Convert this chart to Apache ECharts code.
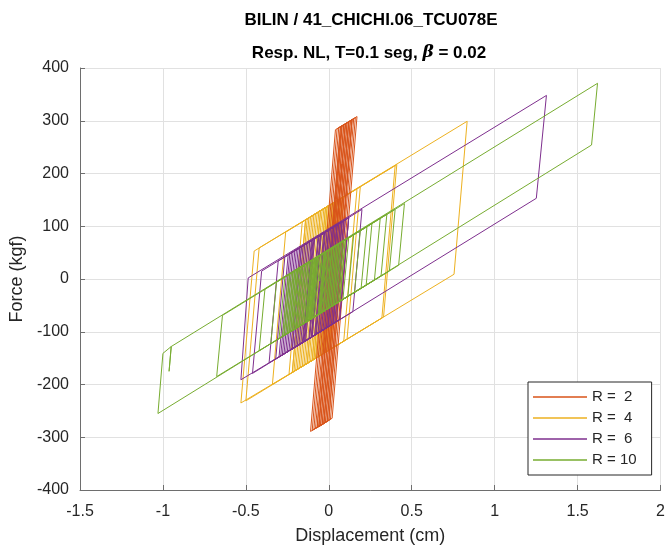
<!DOCTYPE html>
<html>
<head>
<meta charset="utf-8">
<script src="https://cdn.jsdelivr.net/npm/echarts@6/dist/echarts.min.js"></script>
<style>
html, body { margin: 0; padding: 0; background: #ffffff; }
#chart { width: 668px; height: 550px; }
</style>
</head>
<body>
<div id="chart"></div>
<script>
// Hysteresis loops (force vs displacement) of the BILIN model, one path per strength ratio R.
// Each path is the sequence of turning points / yield corners of the response.

const dispR2 = [0, 0.076, 0.09, -0.06, -0.07, 0.08, 0.10, -0.05, -0.09, 0.06, 0.12, -0.03, -0.05, 0.10, 0.14, -0.01, -0.03, 0.12, 0.17, 0.02, -0.01, 0.14, 0.15, 0.0, -0.04, 0.11, 0.13, -0.02, -0.06, 0.09, 0.11, -0.04, -0.08, 0.07, 0.08,
  -0.07, -0.10, 0.05, 0.16, 0.01, -0.02, 0.13, 0.15, 0.0, -0.07, 0.08, 0.12, -0.03, -0.11, 0.04, 0.10, 0.04, 0.08, 0.02, 0.05, 0.03];
const forceR2 = [0, 290, 292, -280, -281, 290, 294, -278, -285, 287, 298, -274, -278, 294, 302, -270, -274, 298, 308, -264, -270, 302, 304, -268, -276, 296, 300, -272, -280, 292, 296, -276, -283, 288, 290,
  -281, -287, 285, 306, -266, -272, 300, 304, -268, -281, 290, 298, -274, -289, 283, 294, 66, 218, -10, 104, 30];

const dispR4 = [0, 0.041, 0.06, -0.02, -0.10, -0.02, 0.03, -0.05, -0.15, -0.07, 0.0, -0.08, -0.18, -0.10, 0.08, 0.0, -0.12, -0.04, 0.19, 0.11, -0.20, -0.12, 0.17, 0.09, -0.22, -0.14, 0.05, -0.03, -0.34, -0.26, -0.05, -0.13, -0.53, -0.45, 0.41, 0.33, -0.22, -0.14, 0.40, 0.32, -0.50, -0.42, 0.834, 0.755, -0.10, -0.02, 0.02,
  -0.06, -0.16, -0.08, 0.04, -0.04, -0.19, -0.11, 0.01, -0.07, -0.13, -0.05, 0.07, -0.01, -0.17, -0.09, -0.01,
  -0.09, -0.21, -0.13, 0.03, -0.05, -0.14, -0.06, 0.09, 0.01, -0.11, -0.03, 0.0, -0.08, -0.24, -0.16, 0.05, -0.03, -0.09, -0.01, 0.02, -0.02, 0.0, -0.015];
const forceR4 = [0, 147, 150, -139, -154, 135, 145, -145, -164, 126, 139, -150, -169, 120, 154, -135, -158, 131, 175, -114, -173, 116, 171, -118, -177, 112, 149, -141, -200, 89, 129, -160, -235, 53, 217, -72, -177, 112, 215, -74, -231, 59, 299, 9, -154, 135, 143,
  -146, -166, 124, 147, -143, -171, 118, 141, -148, -160, 129, 152, -137, -167, 122, 137,
  -152, -175, 114, 145, -145, -162, 128, 156, -133, -156, 133, 139, -150, -181, 108, 149, -141, -152, 137, 143, -1, 70, 15];

const dispR6 = [0, 0.028, 0.05, -0.005, -0.08, -0.025, 0.08, 0.025, -0.15, -0.095, 0.02, -0.035, -0.22, -0.165, 0.12, 0.065, -0.18, -0.125, 0.2, 0.145, -0.26, -0.205, 0.06, 0.005, -0.36, -0.305, -0.05, -0.105, -0.46, -0.405, -0.1, -0.155, -0.53, -0.486, 1.312, 1.251, -0.10, -0.045, 0.1, 0.045, -0.2, -0.145, 0.0, -0.055, -0.25, -0.195, 0.03, -0.025, -0.12, -0.065, -0.05,
  -0.105, -0.30, -0.245, 0.08, 0.025, -0.23, -0.175, 0.05, -0.005, -0.16, -0.105, 0.12, 0.065, -0.28, -0.225, -0.02, -0.075, -0.14, -0.085, -0.03,
  -0.085, -0.27, -0.215, 0.04, -0.015, -0.21, -0.155, -0.06, -0.115, -0.32, -0.265, 0.07, 0.015, -0.19, -0.135, 0.01, -0.045, -0.24, -0.185, -0.09, -0.145, -0.29, -0.235, 0.09, 0.035, -0.17, -0.115, -0.01, -0.065, -0.22, -0.165, 0.0, -0.04, -0.02, -0.03];
const forceR6 = [0, 98, 103, -91, -105, 88, 108, -85, -119, 75, 97, -97, -132, 61, 116, -77, -125, 69, 132, -62, -140, 53, 105, -89, -159, 34, 83, -110, -179, 15, 74, -120, -191, 2, 348, 153, -109, 84, 112, -81, -129, 65, 93, -101, -138, 55, 99, -95, -113, 80, 83,
  -110, -148, 46, 108, -85, -134, 59, 103, -91, -121, 73, 116, -77, -144, 50, 89, -104, -117, 77, 87,
  -106, -142, 52, 101, -93, -131, 63, 81, -112, -152, 42, 107, -87, -127, 67, 95, -99, -136, 57, 76, -118, -146, 48, 110, -83, -123, 71, 91, -103, -133, 61, 93, -45, 25, -8];

const dispR10 = [0, 0.017, 0.05, 0.015, -0.06, -0.025, 0.09, 0.055, -0.10, -0.065, 0.12, 0.085, -0.14, -0.105, 0.15, 0.115, -0.11, -0.075, 0.19, 0.155, -0.18, -0.145, 0.23, 0.195, -0.22, -0.185, 0.26, 0.225, -0.25, -0.215, 0.31, 0.275, -0.30, -0.265, 0.35, 0.315, -0.35, -0.315, 0.40, 0.365, -0.42, -0.385, 0.456, 0.421, -0.676, -0.641, 0.10, 0.065, -1.03, -1.0, -0.95, -0.963, -0.95, 1.62, 1.584,
  -0.05, -0.015, 0.04, 0.005, -0.2, -0.165, 0.02, -0.015, -0.24, -0.205, 0.07, 0.035, -0.16, -0.125, 0.1, 0.065, -0.27, -0.235, -0.02, -0.055, -0.12, -0.085, 0.0, -0.035, -0.2, -0.165, -0.05,
  -0.085, -0.22, -0.185, 0.03, -0.005, -0.18, -0.145, -0.10, -0.135, -0.26, -0.225, 0.06, 0.025, -0.14, -0.105, 0.0, -0.035, -0.21, -0.175, -0.08, -0.115, -0.28, -0.245, 0.04, 0.005, -0.17, -0.135, -0.02, -0.055, -0.24, -0.205, 0.08, 0.045, -0.11, -0.075, 0.02, -0.015, -0.19, -0.155, -0.06, -0.095, -0.23, -0.195, 0.05, 0.015, -0.16, -0.125, -0.03,
  -0.065, -0.25, -0.215, 0.01, -0.025, -0.13, -0.095, 0.07, 0.035, -0.2, -0.165, -0.07, -0.105, -0.27, -0.235, 0.03, -0.005, -0.15, -0.115, -0.01, -0.045, -0.22, -0.185, -0.09, -0.125, -0.23, -0.195, 0.06, 0.025, -0.12, -0.085, -0.04, -0.055, -0.045, -0.05];
const forceR10 = [0, 58, 65, -52, -67, 50, 72, -44, -74, 42, 78, -39, -82, 35, 84, -33, -76, 41, 92, -25, -90, 27, 99, -17, -97, 19, 105, -12, -103, 14, 115, -2, -113, 4, 123, 6, -123, -6, 132, 15, -136, -19, 143, 26, -185, -69, 74, -42, -255, -141, -128, -175, -128, 371, 254,
  -65, 52, 63, -54, -94, 23, 59, -58, -101, 15, 69, -48, -86, 31, 74, -42, -107, 10, 51, -66, -78, 39, 55, -62, -94, 23, 45,
  -71, -98, 19, 61, -56, -90, 27, 36, -81, -105, 12, 67, -50, -82, 35, 55, -62, -96, 21, 40, -77, -109, 8, 63, -54, -88, 29, 51, -66, -101, 15, 70, -46, -76, 41, 59, -58, -92, 25, 43, -73, -99, 17, 65, -52, -86, 31, 49,
  -68, -103, 14, 57, -60, -80, 37, 69, -48, -94, 23, 42, -75, -107, 10, 61, -56, -84, 33, 53, -64, -98, 19, 38, -79, -99, 17, 67, -50, -78, 39, 47, -4, 30, 12];

const seriesNames = ['R =  2', 'R =  4', 'R =  6', 'R = 10'];
const xTickMin = -1.5, xTickMax = 2, xTickStep = 0.5;
const yTickMin = -400, yTickMax = 400, yTickStep = 100;

const pairs = (xs, ys) => xs.map((x, i) => [x, ys[i]]);

const FONT = "'Liberation Sans', Arial, Helvetica, sans-serif";
const INK = '#262626';
const AXIS = '#6e6e6e';

function loop(name, xs, ys, color, z) {
  return {
    name: name,
    type: 'line',
    data: pairs(xs, ys),
    symbol: 'none',
    showSymbol: false,
    z: z,
    lineStyle: { color: color, width: 1 },
    itemStyle: { color: color },
    emphasis: { disabled: true },
    animation: false
  };
}

const chart = echarts.init(document.getElementById('chart'), null, { renderer: 'canvas' });

chart.setOption({
  backgroundColor: '#ffffff',
  animation: false,
  textStyle: { fontFamily: FONT },
  grid: { left: 80, right: 5, top: 68, bottom: 56, containLabel: false },
  xAxis: {
    type: 'value',
    min: xTickMin, max: xTickMax, interval: xTickStep,
    name: 'Displacement (cm)',
    nameLocation: 'middle',
    nameGap: 37,
    nameTextStyle: { color: INK, fontSize: 18, fontFamily: FONT },
    axisLine: { show: true, onZero: false, lineStyle: { color: AXIS, width: 1 } },
    axisTick: { show: true, inside: true, length: 5, lineStyle: { color: AXIS } },
    axisLabel: { color: INK, fontSize: 16, fontFamily: FONT, margin: 14 },
    splitLine: { show: true, lineStyle: { color: '#e1e1e1', width: 1 } }
  },
  yAxis: {
    type: 'value',
    min: yTickMin, max: yTickMax, interval: yTickStep,
    name: 'Force (kgf)',
    nameLocation: 'middle',
    nameGap: 50,
    nameTextStyle: { color: INK, fontSize: 18, fontFamily: FONT },
    axisLine: { show: true, onZero: false, lineStyle: { color: AXIS, width: 1 } },
    axisTick: { show: true, inside: true, length: 5, lineStyle: { color: AXIS } },
    axisLabel: { color: INK, fontSize: 16, fontFamily: FONT, margin: 11 },
    splitLine: { show: true, lineStyle: { color: '#e1e1e1', width: 1 } }
  },
  legend: {
    orient: 'vertical',
    left: 528,
    top: 382,
    data: seriesNames,
    icon: 'rect',
    itemWidth: 54,
    itemHeight: 1.5,
    itemGap: 5,
    padding: [7, 15, 7, 5],
    backgroundColor: '#ffffff',
    borderColor: INK,
    borderWidth: 1,
    borderRadius: 0,
    selectedMode: false,
    textStyle: { color: INK, fontSize: 15, lineHeight: 16, fontFamily: FONT }
  },
  graphic: [
    {
      type: 'text', x: 371, y: 20, silent: true,
      style: {
        text: 'BILIN / 41_CHICHI.06_TCU078E',
        fill: '#000000',
        font: "bold 17px " + FONT,
        align: 'center', verticalAlign: 'middle'
      }
    },
    {
      type: 'text', x: 369, y: 53, silent: true,
      style: {
        text: '{a|Resp. NL, T=0.1 seg, }{b|\u03B2}{a| = 0.02}',
        align: 'center', verticalAlign: 'middle',
        rich: {
          a: { fill: '#000000', fontSize: 17, fontWeight: 'bold', fontFamily: FONT },
          b: { fill: '#000000', fontSize: 17, fontStyle: 'italic', fontWeight: 'bold', fontFamily: "'DejaVu Serif', serif" }
        }
      }
    }
  ],
  series: [
    loop(seriesNames[0], dispR2, forceR2, '#D95319', 3),
    loop(seriesNames[1], dispR4, forceR4, '#EDB120', 2),
    loop(seriesNames[2], dispR6, forceR6, '#7E2F8E', 4),
    loop(seriesNames[3], dispR10, forceR10, '#77AC30', 5)
  ]
});
</script>
</body>
</html>
